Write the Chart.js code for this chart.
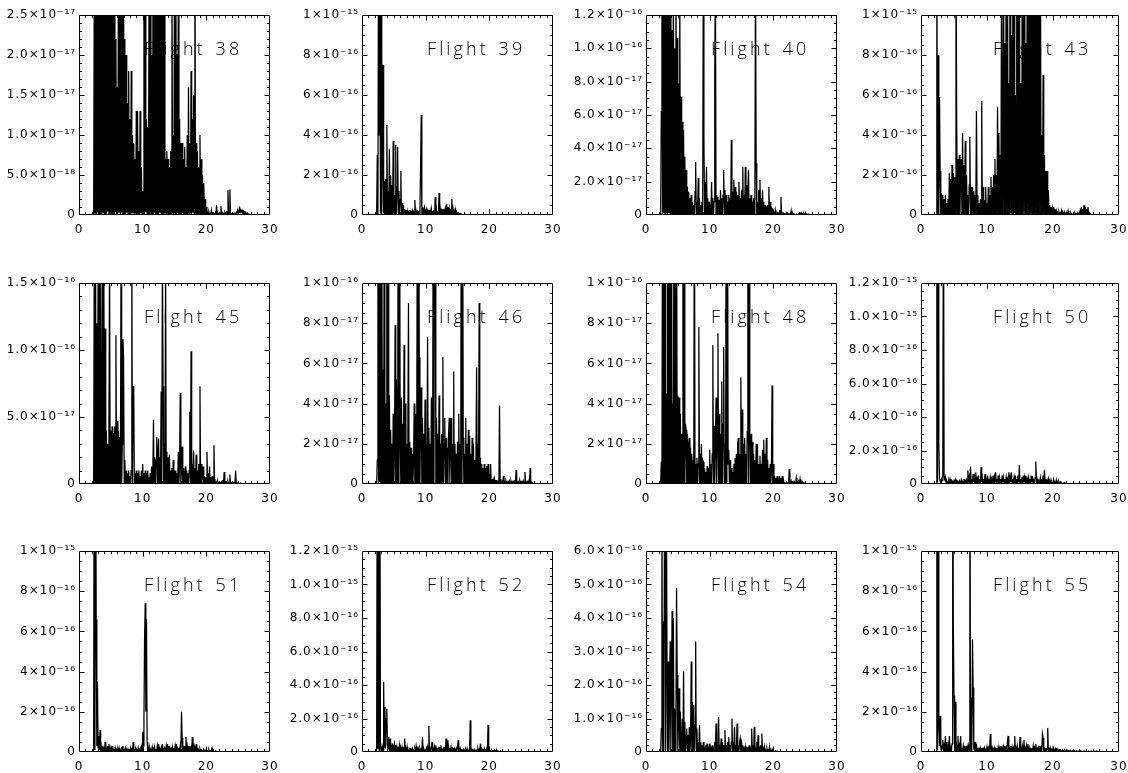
<!DOCTYPE html>
<html>
<head>
<meta charset="utf-8">
<title>Flight spectra</title>
<script src="https://cdn.jsdelivr.net/npm/chart.js@4.4.1/dist/chart.umd.min.js"></script>
<style>
html,body{margin:0;padding:0;background:#fff;}
body{width:1128px;height:773px;position:relative;overflow:hidden;}
canvas{position:absolute;}
</style>
</head>
<body>
<script>
// Frequency grid (Hz)
const freqHz = [2.3,2.4,2.5,2.6,2.7,2.8,2.9,3.0,
3.1,3.2,3.3,3.4,3.5,3.6,3.7,3.8,3.9,4.0,
4.1,4.2,4.3,4.4,4.5,4.6,4.7,4.8,4.9,5.0,
5.1,5.2,5.3,5.4,5.5,5.6,5.7,5.8,5.9,6.0,
6.1,6.2,6.3,6.4,6.5,6.6,6.7,6.8,6.9,7.0,
7.1,7.2,7.3,7.4,7.5,7.6,7.7,7.8,7.9,8.0,
8.1,8.2,8.3,8.4,8.5,8.6,8.7,8.8,8.9,9.0,
9.1,9.2,9.3,9.4,9.5,9.6,9.7,9.8,9.9,10.0,
10.1,10.2,10.3,10.4,10.5,10.6,10.7,10.8,10.9,11.0,
11.1,11.2,11.3,11.4,11.5,11.6,11.7,11.8,11.9,12.0,
12.1,12.2,12.3,12.4,12.5,12.6,12.7,12.8,12.9,13.0,
13.1,13.2,13.3,13.4,13.5,13.6,13.7,13.8,13.9,14.0,
14.1,14.2,14.3,14.4,14.5,14.6,14.7,14.8,14.9,15.0,
15.1,15.2,15.3,15.4,15.5,15.6,15.7,15.8,15.9,16.0,
16.1,16.2,16.3,16.4,16.5,16.6,16.7,16.8,16.9,17.0,
17.1,17.2,17.3,17.4,17.5,17.6,17.7,17.8,17.9,18.0,
18.1,18.2,18.3,18.4,18.5,18.6,18.7,18.8,18.9,19.0,
19.1,19.2,19.3,19.4,19.5,19.6,19.7,19.8,19.9,20.0,
20.1,20.2,20.3,20.4,20.5,20.6,20.7,20.8,20.9,21.0,
21.1,21.2,21.3,21.4,21.5,21.6,21.7,21.8,21.9,22.0,
22.1,22.2,22.3,22.4,22.5,22.6,22.7,22.8,22.9,23.0,
23.1,23.2,23.3,23.4,23.5,23.6,23.7,23.8,23.9,24.0,
24.1,24.2,24.3,24.4,24.5,24.6,24.7,24.8,24.9,25.0,
25.1,25.2,25.3,25.4,25.5,25.6,25.7,25.8,25.9,26.0,
26.1,26.2,26.3,26.4,26.5,26.6,26.7,26.8,26.9,27.0];

const xTickLabels = ['0','10','20','30'];

// Flight 38, units of 1e-18
const flight38 = [0,30,0.2,40,0.1,45,0.3,40,
0.1,45,0.2,50,0.1,40,0.3,38,0.2,45,
0.1,42,0.2,38,0.4,40,0.1,42,0.2,35,
0.3,36,0.1,30,0.2,40,0.5,22,0.1,16,
0.2,35,0.4,28,0.1,30,0.3,26,0.1,30,
0.2,22,0.1,20,0.3,14,0.1,18,0.2,12,
0.1,18,0.2,10,0.3,9,0.1,7,0.2,13,
0.1,13,0.2,8,0.1,13,0.2,6,0.1,3,
0.2,30,0.1,28,0.4,12,0.2,11,0.1,28,
0.3,35,0.1,20,0.2,40,0.1,30,0.3,28,
0.1,45,0.2,32,0.1,40,0.3,30,0.1,35,
0.2,38,0.1,30,0.2,7,0.1,8,0.2,7,
0.1,6,0.2,8,0.1,30,0.2,10,0.1,35,
0.3,40,0.1,20,0.2,28,0.1,12,0.2,9,
0.1,9,0.2,7,0.1,8.5,0.2,6,0.1,10,
0.2,16,0.1,9,0.2,18,0.1,12,0.3,15,
0.1,40,0.2,9,0.1,8,0.2,6,0.1,10,
0.2,7,0.1,5,0.2,4,0.1,2,0.1,1,
0.2,0.3,0.1,0.4,0.1,0.2,0.1,0.6,0.1,0.2,
0.1,0.2,0.1,0.3,0.1,1.2,0.2,0.3,0.1,0.2,
0.1,0.2,1.1,0.1,0.3,0.1,0.2,0.1,0.3,0.1,
0.2,0.5,0.1,3.1,0.3,0.2,3.2,0.1,0.2,0.1,
0.1,0.2,0.1,0.1,0.2,0.1,0.3,0.2,0.6,0.3,
0.4,0.8,0.3,0.6,0.4,0.7,0.3,0.5,0.3,0.4,
0.2,0.3,0.2,0.1,0.2,0.1,0.1,0.05,0.05,0];

// Flight 39, units of 1e-17
const flight39 = [0,30,0.5,150,40,130,0.8,120,
0.5,30,75,0.8,17,0.4,18,0.6,45,0.5,
12,0.3,33,0.5,20,0.3,15,0.4,37,0.6,
10,0.3,35,0.5,14,34,0.4,12,0.3,8,
22,0.3,6,0.2,5,0.2,3,0.1,2.5,0.1,
2,0.1,1.5,0.1,2.5,0.1,1.5,0.1,2,0.1,
1.5,0.1,7.5,0.1,2,0.1,1.5,0.1,2,0.1,
3,24,50,0.2,4,0.1,3,4,0.1,2,
3,0.1,2,0.1,2.5,0.1,2,0.1,3,0.1,
2,0.1,2.5,0.1,9,0.1,3,0.1,2,0.1,
11,0.1,3,0.1,2,0.1,3,0.1,2,0.1,
3,0.1,5.5,0.1,4,0.1,3,0.1,2,0.1,
8,0.1,3,0.1,2,0.1,2.5,0.1,1,0.1,
1,0.1,0.6,0.1,0.5,0.1,0.3,0.1,0.2,0.1,
0.3,0.1,0.2,0.1,0.1,0,0,0,0,0,
0,0,0,0,0,0,0,0,0,0,
0,0,0,0,0,0,0,0,0,0,
0,0,0,0,0,0,0,0,0,0,
0,0,0,0,0,0,0,0,0,0,
0,0,0,0,0,0,0,0,0,0,
0,0,0,0,0,0,0,0,0,0,
0,0,0,0,0,0,0,0,0,0,
0,0,0,0,0,0,0,0,0,0,
0,0,0,0,0,0,0,0,0,0,
0,0,0,0,0,0,0,0,0,0];

// Flight 40, units of 1e-18
const flight40 = [0,62,150,0.5,140,1,150,0.4,
140,0.8,150,0.3,140,1,130,0.4,150,0.5,
111,0.6,140,0.3,100,0.5,150,0.2,106,0.4,
79,0.3,150,0.2,71,0.5,56,0.3,51,0.2,
35,0.3,27,0.2,17,0.4,14,0.2,10,0.3,
12,0.2,8,0.3,6,0.2,14,32,0.3,8,
0.2,22,0.3,10,0.2,6,0.3,8,0.2,150,
46,0.3,20,0.2,29,0.4,10,0.2,8,0.3,
6,0.2,20,0.3,10,0.2,8,85,150,0.3,
12,0.2,11,0.4,9,0.2,15,0.3,10,0.2,
12,27,0.3,15,0.2,12,0.4,8,0.2,12,
0.3,10,0.2,45,0.4,14,0.3,21,0.2,17,
0.4,14,0.2,12,0.3,20,0.4,10,0.2,15,
0.3,29,0.4,12,0.2,29,0.3,18,0.2,15,
27,0.3,10,0.2,12,0.4,8,0.2,10,0.3,
12,150,31,0.3,8,0.2,15,0.3,21,0.2,
10,0.3,15,0.2,8,0.4,6,0.2,5,0.3,
6,0.2,17,0.3,8,0.2,5,0.1,4,0.1,
2,0.1,3,0.1,1,0.1,2,0.1,1,3,
0.1,11,0.1,1,0.1,1,0.1,0.5,0.1,1,
0.1,1,0.1,0.5,0.1,0.5,0.1,2.6,0.1,0.3,
0.1,0.5,0.1,0.3,0.1,0.5,0.1,0.3,0.1,0.5,
0.1,1,0.1,1.2,0.1,0.5,0.1,1,0.1,0.5,
1,0.1,0.5,0.1,0.5,0.1,0.3,0.1,0.3,0.1,
0.1,0.2,0.1,0.1,0,0,0,0,0,0];

// Flight 43, units of 1e-17
const flight43 = [0.2,140,0.3,80,0.5,59,22,0.2,
11,0.1,10,0.2,8,0.1,10,0.3,6,0.2,
8,0.2,21,0.3,18,0.2,25,0.4,21,0.3,
19,0.3,150,53,0.4,28,0.3,30,0.5,20,
28,0.3,41,0.5,25,0.3,37,0.4,20,0.3,
10,0.3,15,39,0.4,14,0.2,14,0.3,12,
0.2,10,0.3,52,0.2,10,0.3,6,0.2,8,
0.3,57,0.4,14,0.2,7.5,0.3,14,0.2,6,
0.3,14,0.2,10,0.3,19,0.2,14,0.3,20,
0.4,28,0.3,20,0.4,54,0.3,41,0.5,30,
0.4,120,0.5,40,150,0.6,86,0.4,130,0.3,
150,0.5,66,0.3,150,0.6,90,0.4,140,0.3,
150,0.7,60,0.4,150,0.5,130,0.3,150,0.4,
66,0.5,150,0.3,120,0.6,150,0.4,86,0.3,
150,0.5,140,0.3,150,0.8,100,0.4,150,0.2,
150,0.6,120,0.3,150,0.5,140,0.4,150,0.3,
130,0.5,40,0.3,70,0.4,30,0.2,22,0.3,
22,0.2,12.5,0.3,5,0.1,4,0.1,3,0.1,
4,0.1,3,0.1,2,0.1,1,0.1,1.5,0.1,
1,0.1,2,0.1,1,0.1,1.5,0.1,0.5,0.1,
1,0.1,2,0.1,0.5,0.1,1,0.1,0.5,0.1,
0.5,0.1,1,0.1,0.5,0.1,1,0.1,0.5,0.1,
2,0.2,4,0.3,3,0.2,5,0.3,4,0.2,
3,0.2,4,0.1,1,0.1,0.5,0.1,0.2,0.1,
0,0,0,0,0,0,0,0,0,0];

// Flight 45, units of 1e-18
const flight45 = [0,180,0.5,170,0.3,120,0.2,170,
0.4,160,0.2,175,60,0.3,150,0.5,170,0.3,
116,0.4,40,0.3,30,0.2,40,170,0.3,40,
0.3,43,0.4,38,0.2,43,0.3,111,0.2,47,
0.3,40,0.2,35,0.3,170,0.2,30,108,96,
0.3,18,0.2,10,0.1,8,0.2,10,0.1,6,
0.2,10,170,0.3,73,68,0.2,8,0.1,10,
0.2,8,0.1,10,0.2,6,0.1,10,0.2,15,
0.2,8,0.1,10,0.2,8,0.1,10,0.2,5,
0.1,8,0.2,13,0.1,10,48,0.2,20,0.3,
18,35,0.2,24,34,0.3,20,0.2,69,0.3,
170,73,0.2,30,0.3,170,0.4,24,0.2,20,
0.3,22,0.2,10,0.3,12,0.1,18,0.2,10,
0.2,10,0.1,8,0.3,24,0.2,15,68,0.3,
10,28,0.2,12,0.1,8,13,0.2,10,0.1,
8,0.2,10,54,0.2,99,0.3,15,0.2,25,
0.3,12,0.2,22,0.3,10,0.2,15,0.3,73,
0.3,15,0.2,8,13,0.2,6,0.1,5,0.2,
24,0.1,8,0.2,13,0.1,5,0.1,6,0.1,
2,29,0.1,2,0.1,1.5,0.1,2,0.1,1,
0.1,1,0.1,1.5,0.1,3,0.1,9,0.1,1,
0.1,1,0.1,2,0.1,1,7,0.1,1,0.1,
0.1,1,0.1,1,0.1,10,0.1,1,0.1,0.5,
0.1,0.5,0.1,0.5,0.1,0.3,0.1,0.3,0.1,0.3,
0.1,0.2,0.1,0.2,0.1,0.1,0,0,0,0];

// Flight 46, units of 1e-18
const flight46 = [0,12,170,0.5,170,0.8,160,0.5,
170,0.4,57,0.3,170,0.5,40,0.3,170,0.4,
170,0.4,44,0.3,27,0.2,20,0.3,35,0.4,
15,79,0.3,52,0.4,25,170,0.5,170,20,
0.4,43,0.3,30,0.2,69,0.4,40,0.3,20,
0.4,25,90,0.3,21,0.2,18,0.3,15,0.4,
12,40,0.3,35,0.2,25,170,0.4,170,63,
0.4,30,48,0.3,33,0.2,25,0.3,42,0.4,
20,0.3,73,0.4,28,0.2,20,0.3,43,0.4,
25,170,0.4,170,160,0.4,33,0.2,25,0.3,
44,0.3,20,0.2,25,0.4,63,0.3,20,33,
0.3,23,0.2,18,0.3,25,33,0.3,20,33,
0.3,20,0.2,56,0.3,20,0.2,15,0.3,21,
0.2,35,0.3,20,0.2,170,0.4,170,23,0.2,
15,0.3,33,0.2,20,0.3,27,0.2,24,0.3,
15,0.2,23,0.3,20,0.2,12,0.3,15,58,
0.3,20,0.3,90,0.2,13,0.3,10,0.2,8,
0.2,10,0.1,8,0.2,9,0.1,10,0.2,5,
0.1,10,0.1,2.5,0.1,2,0.1,2.5,0.1,2,
0.1,2,0.1,1,0.1,39,0.1,2.5,0.1,1,
0.1,4,0.1,1,0.1,1.5,0.1,1,0.1,1,
0.1,1,0.1,1.5,0.1,1,0.1,1,0.1,2,
0.1,7,0.1,1,0.1,1,0.1,1.5,0.1,1,
0.1,1,0.1,1,0.1,6,0.1,1,0.1,1,
0.1,1,0.1,8,0.1,1,0.1,0.5,0.1,0.1];

// Flight 48, units of 1e-18
const flight48 = [0,11,0.3,170,0.5,170,0.4,170,
0.5,45,0.3,170,0.4,170,0.5,160,0.3,170,
0.6,40,0.3,170,0.4,170,0.4,160,0.3,44,
0.4,43,0.3,35,0.2,25,0.4,170,0.3,170,
0.4,30,27,0.3,25,0.2,20,23,0.3,18,
0.3,15,0.2,12,0.3,170,0.2,10,0.3,13,
0.2,10,78,0.3,15,0.2,20,0.3,12,11,
0.3,8,0.2,6,0.3,9,0.2,8,0.1,17,
0.3,10,0.2,15,69,0.3,29,0.2,20,43,
0.3,20,75,0.2,35,0.3,25,0.2,51,0.3,
30,68,0.3,20,0.2,170,0.4,170,10,17,
0.3,12,0.2,8,0.3,6,0.2,10,0.3,13,
0.2,15,0.3,20,23,0.2,15,0.3,53,0.4,
37,0.3,20,0.2,23,0.3,15,0.2,26,170,
0.4,170,22,0.3,25,0.2,21,0.3,15,0.2,
12,0.3,20,0.2,20,0.3,10,0.2,14,0.3,
10,0.2,17,0.3,22,0.2,15,0.3,23,0.2,
12,0.3,8,0.2,10,0.3,6,49,0.2,10,
0.2,4,0.1,3,0.1,4,0.1,2,0.1,4,
0.1,3,0.1,4,0.1,2,0.1,0.5,0.1,0.5,
0.1,0.5,0.1,0.5,7.5,0.1,1,0.1,1,0.1,
1,0.1,1,0.1,0.5,3,0.1,1,0.1,1,
0.1,2.5,0.1,1,0.1,1,0.1,0.5,0.1,0.5,
0.1,0.2,0.1,0.2,0.1,0.1,0.1,0.1,0.1,0.1,
0.1,0.1,0,0,0,0,0,0,0,0];

// Flight 50, units of 1e-17
const flight50 = [0,200,1,150,25,3,2,1,
3,2,4,200,5,2,4,1,2,1,
1,2,0.5,3,1,2,0.5,1.5,1,2,
0.5,2.5,1,2,0.5,1.5,1,2,0.5,1,
2.5,0.5,1.5,1,3,0.5,2,1,2.5,0.5,
8,1,4,0.5,10.4,1,3,0.5,6,1,
4,0.5,7,1,3,0.5,5,1,3,0.5,
10,1,4,0.5,3,1,6,0.5,3,1,
5,0.5,3,1,4,0.5,3,1,5,0.5,
4,1,7,0.5,3,1,5,0.5,4,1,
3,0.5,5,1,4,0.5,3,1,4,0.5,
3,1,7,0.5,4,1,7,0.5,3,1,
4,0.5,5,1,3,0.5,5,1,11.4,0.5,
3,1,4,0.5,5,1,4,0.5,5,1,
3,0.5,4,1,3,0.5,5,1,3,0.5,
2,1,4,13.4,0.5,3,1,2,0.5,2,
4,0.5,3,1,5,0.5,8.4,1,3,0.5,
2,0.5,3,0.5,1.5,0.3,2.4,0.5,1,0.3,
2,0.3,1,0.3,2.4,0.3,1,0.3,1.5,0.3,
0.5,0.2,1,0.2,0.3,0.2,0.8,0.2,0.3,0.1,
0.5,0.1,0.2,0.1,0.1,0,0,0,0,0,
0,0,0,0,0,0,0,0,0,0,
0,0,0,0,0,0,0,0,0,0,
0,0,0,0,0,0,0,0,0,0,
0,0,0,0,0,0,0,0,0,0];

// Flight 51, units of 1e-17
const flight51 = [0,200,1,200,66,3,35,2,
8,1,11,0.5,3,0.5,2,0.5,1.5,0.5,
5,0.5,2,0.5,3,0.5,4,0.5,2,0.5,
2,0.3,3,0.5,1,0.3,2,0.5,1,0.3,
1.5,0.3,2,0.5,1,0.3,2.5,0.5,3,0.3,
1,0.3,2,0.5,1,0.3,1.5,0.5,1,0.3,
2,0.3,1,0.3,5,0.3,1,0.5,1.5,0.3,
1,0.3,2,0.5,1,0.3,2,3,0.5,10,
3,16,56,74,20,66,5,0.5,2,0.5,
2,0.5,1,0.3,2.5,0.5,1.5,0.3,2,0.5,
1,0.3,3,0.5,4,0.3,1.5,0.5,2,0.3,
4,0.5,2,0.3,1.5,0.5,3,0.3,4,0.5,
3,0.3,2,0.5,1.5,0.3,2.5,0.5,2,0.3,
3,0.5,4,0.3,1.5,0.5,2,0.3,3,0.5,
20,7,0.5,2,0.3,3,0.5,7.5,0.5,3,
0.5,2,0.3,3,0.5,2,0.3,7.5,0.5,2.5,
0.3,2,0.5,4,0.3,1.5,0.5,1,0.3,1.5,
0.3,1,0.2,0.5,0.2,1,0.2,0.8,0.2,1,
0.2,0.5,0.2,1.2,0.2,0.5,0.2,1,2,0.3,
0.5,0.2,0.3,0.1,0.5,0.1,0.3,0.1,0.2,0.1,
0.1,0.1,0.1,0.1,0.1,0,0,0,0,0,
0,0,0,0,0,0,0,0,0,0,
0,0,0,0,0,0,0,0,0,0,
0,0,0,0,0,0,0,0,0,0,
0,0,0,0,0,0,0,0,0,0];

// Flight 52, units of 1e-17
const flight52 = [0,200,2,200,1,200,6,2,
0.5,3,0.5,42,3,27,2,20,26,4,
2,9,0.5,8,0.5,3,0.5,5,0.5,3,
5,0.5,4,0.3,3,0.5,2,0.3,4,0.5,
2,0.3,3,0.5,2,0.3,8,0.5,2,0.3,
3,0.3,1,0.3,2.5,0.5,1.5,0.3,2,0.3,
1,0.3,2,0.5,3.4,0.3,2,0.5,1.5,0.3,
2,0.3,1.5,0.5,9,0.3,2,0.5,1,0.3,
2,0.5,3,0.3,15.5,0.5,2,0.3,3,6,
0.5,2,0.3,3,0.5,4,0.3,1.5,0.5,2,
0.3,3,0.5,4,0.3,1.5,0.5,2,0.3,3,
0.5,8,0.3,7,0.5,3,0.3,2.5,0.5,3,
0.3,2,0.5,2.5,0.3,1.5,0.5,2,0.3,3,
7,0.3,2,0.5,1.5,0.3,1,0.5,1.5,0.3,
1,0.3,1.5,0.3,2,0.3,1,0.3,1,19,
0.3,1.5,0.3,1,0.3,1.5,0.3,1,0.3,1,
0.3,2,0.3,1.5,0.3,5,0.3,1.5,0.3,1,
0.3,2,0.3,1,0.3,1.5,0.3,16.3,0.3,1,
0.3,0.5,0.2,1,0.2,0.8,0.2,1,0.2,0.5,
0.2,1,0.2,0.5,0.1,0.3,0.1,0.5,0.1,0.2,
0.1,0.2,0.1,0.2,0.1,0.1,0.1,0.1,0,0,
0,0,0,0,0,0,0,0,0,0,
0,0,0,0,0,0,0,0,0,0,
0,0,0,0,0,0,0,0,0,0,
0,0,0,0,0,0,0,0,0,0];

// Flight 54, units of 1e-17
const flight54 = [0,7,80,0.3,39,0.2,70,80,
0.3,80,27,0.2,27,0.3,17,33,0.2,20,
42,0.3,40,0.2,13,0.3,8,49,23,0.3,
10,19,0.2,12,0.5,0.2,10,0.3,24,0.2,
9,0.1,5,7,0.1,5,0.2,7.5,0.1,4,
27,0.1,15,0.2,14,0.1,8,33,0.1,7,
0.1,3,0.1,8,0.1,3,0.1,2,0.1,3,
0.1,1,0.1,2,0.1,2.5,0.1,1,0.1,2.5,
0.1,1,0.1,2,0.1,1,0.1,3,0.1,8.5,
0.1,2,0.1,10.5,0.1,2,0.1,4,0.1,3,
0.1,2,0.1,6.5,0.1,2,0.1,3,0.1,4.5,
0.1,2,0.1,3,10,0.1,3,0.1,7.5,0.1,
2,0.1,8.5,0.1,2,0.1,3,4,0.1,3.5,
0.1,2,0.1,1,0.1,1.5,0.1,1,0.1,1.5,
0.1,2,0.1,1,0.1,7,0.1,2,0.1,7.5,
0.1,1,0.1,3,0.1,5,0.1,1,0.1,2,
0.1,5.5,0.1,1,0.1,1.5,0.1,0.5,0.1,1,
0.1,0.5,0.1,1.5,0.1,0.5,0.1,0.8,0.1,0.3,
0.1,0.2,0.1,0.3,0.1,0.1,0.2,0.1,0,0,
0,0,0,0,0,0,0,0,0,0,
0,0,0,0,0,0,0,0,0,0,
0,0,0,0,0,0,0,0,0,0,
0,0,0,0,0,0,0,0,0,0,
0,0,0,0,0,0,0,0,0,0,
0,0,0,0,0,0,0,0,0,0];

// Flight 55, units of 1e-17
const flight55 = [0,200,1,200,12.5,3,18,2,
0.5,3,6,0.5,3,0.5,8,0.5,5,0.5,
3,0.5,8,0.5,2,0.5,4,200,62,28,
0.5,25,0.5,3,0.5,8,0.5,3,0.5,8,
0.3,2,0.3,3,0.3,2,0.3,3,0.3,2.5,
0.3,3,0.5,200,0.5,27,0.5,56,32,2,
0.5,5,0.3,4,0.3,2,0.3,1.5,0.3,2,
0.3,2,0.3,1.5,0.3,2,0.3,1,0.3,2.5,
0.3,2,0.3,1.5,9,0.3,2,0.3,1.5,0.3,
2,0.3,1.5,0.3,2,0.3,2.5,0.3,2,0.3,
3,0.3,2,0.3,2.5,0.3,3,0.3,2,0.3,
5,8,0.3,2,0.3,3,0.3,2.5,0.3,2,
0.3,8,0.3,2,0.3,3,0.3,2,0.3,7.5,
0.3,2,0.3,3,0.3,6,0.3,2,0.3,3,
0.3,4,0.3,2,0.3,1.5,0.3,2,0.3,3,
0.3,2,0.3,4,0.3,1.5,0.3,2,0.3,3,
0.3,2,0.3,9,7,0.3,1.5,0.3,2,0.3,
1.5,12,0.3,1.5,0.3,2,0.3,1,0.3,2,
0.3,1,0.3,1.5,0.3,2,0.3,1,0.3,1,
0.3,0.5,0.3,1,0.3,0.5,0.3,0.8,0.3,0.5,
0.3,0.8,0.2,0.5,0.2,0.8,0.2,0.3,0.2,0.5,
0.2,0.8,0.2,0.3,0.2,0.5,0.2,0.5,0.2,0.3,
0.2,0.5,0.2,0.3,0.2,0.5,0.2,0.3,0.2,0.5,
0.2,0.3,0.2,0.5,0.2,0.3,0.2,0.5,0.2,0.3,
0.2,0.5,0.2,0.3,0.2,0.5,0.2,0.3,0.2,0.2];

// Y tick labels
const yLabels38 = ['0','5.0×10⁻¹⁸','1.0×10⁻¹⁷','1.5×10⁻¹⁷','2.0×10⁻¹⁷','2.5×10⁻¹⁷'];
const yLabelsE15a = ['0','2×10⁻¹⁶','4×10⁻¹⁶','6×10⁻¹⁶','8×10⁻¹⁶','1×10⁻¹⁵'];
const yLabels40 = ['0','2.0×10⁻¹⁷','4.0×10⁻¹⁷','6.0×10⁻¹⁷','8.0×10⁻¹⁷','1.0×10⁻¹⁶','1.2×10⁻¹⁶'];
const yLabels45 = ['0','5.0×10⁻¹⁷','1.0×10⁻¹⁶','1.5×10⁻¹⁶'];
const yLabelsE16 = ['0','2×10⁻¹⁷','4×10⁻¹⁷','6×10⁻¹⁷','8×10⁻¹⁷','1×10⁻¹⁶'];
const yLabelsE15b = ['0','2.0×10⁻¹⁶','4.0×10⁻¹⁶','6.0×10⁻¹⁶','8.0×10⁻¹⁶','1.0×10⁻¹⁵','1.2×10⁻¹⁵'];
const yLabels54 = ['0','1.0×10⁻¹⁶','2.0×10⁻¹⁶','3.0×10⁻¹⁶','4.0×10⁻¹⁶','5.0×10⁻¹⁶','6.0×10⁻¹⁶'];

const panels = [
  {title:'Flight 38', values:flight38, yMax:25,  yStep:5,  yLabels:yLabels38,  yMinor:5},
  {title:'Flight 39', values:flight39, yMax:100, yStep:20, yLabels:yLabelsE15a, yMinor:4},
  {title:'Flight 40', values:flight40, yMax:120, yStep:20, yLabels:yLabels40,  yMinor:4},
  {title:'Flight 43', values:flight43, yMax:100, yStep:20, yLabels:yLabelsE15a, yMinor:4},
  {title:'Flight 45', values:flight45, yMax:150, yStep:50, yLabels:yLabels45,  yMinor:5},
  {title:'Flight 46', values:flight46, yMax:100, yStep:20, yLabels:yLabelsE16, yMinor:4},
  {title:'Flight 48', values:flight48, yMax:100, yStep:20, yLabels:yLabelsE16, yMinor:4},
  {title:'Flight 50', values:flight50, yMax:120, yStep:20, yLabels:yLabelsE15b, yMinor:4},
  {title:'Flight 51', values:flight51, yMax:100, yStep:20, yLabels:yLabelsE15a, yMinor:4},
  {title:'Flight 52', values:flight52, yMax:120, yStep:20, yLabels:yLabelsE15b, yMinor:4},
  {title:'Flight 54', values:flight54, yMax:60,  yStep:10, yLabels:yLabels54,  yMinor:5},
  {title:'Flight 55', values:flight55, yMax:100, yStep:20, yLabels:yLabelsE15a, yMinor:4}
];

// Layout (plot-frame edges in page pixels)
const colL = [79, 362, 646, 921];
const colR = [270, 553, 837, 1119];
const rowT = [15, 283, 551];
const rowB = [215, 484, 752];
const PADL = 80, PADR = 12, PADT = 12, PADB = 26;

Chart.defaults.font.family = '"DejaVu Sans", "Liberation Sans", sans-serif';
Chart.defaults.font.size = 12;
Chart.defaults.color = '#000';

const idlFrame = {
  id: 'idlFrame',
  beforeDraw(chart, args, opts) {
    chart.ctx.letterSpacing = opts.labelSpacing;
  },
  beforeDatasetsDraw(chart, args, opts) {
    const {ctx, chartArea: a} = chart;
    ctx.save();
    ctx.font = opts.titleFont;
    ctx.letterSpacing = opts.titleSpacing;
    ctx.wordSpacing = opts.wordSpacing;
    ctx.fillStyle = '#000';
    ctx.textAlign = 'left';
    ctx.textBaseline = 'alphabetic';
    ctx.fillText(opts.title, a.right + opts.titleDx, a.top + opts.titleDy);
    ctx.restore();
  },
  afterDatasetsDraw(chart, args, opts) {
    const {ctx, chartArea: a, scales} = chart;
    const xs = scales.x, ys = scales.y;
    const l = Math.round(a.left) + 0.5, r = Math.round(a.right) - 0.5;
    const t = Math.round(a.top) + 0.5, b = Math.round(a.bottom) - 0.5;
    ctx.save();
    ctx.strokeStyle = '#000';
    ctx.lineWidth = 1;
    ctx.beginPath();
    ctx.rect(l, t, r - l, b - t);
    const nx = Math.round((xs.max - xs.min) / opts.xMinorStep);
    for (let k = 1; k < nx; k++) {
      const px = Math.round(xs.getPixelForValue(xs.min + k * opts.xMinorStep)) + 0.5;
      const len = (k % opts.xMinorPerMajor === 0) ? opts.majorLen : opts.minorLen;
      ctx.moveTo(px, b); ctx.lineTo(px, b - len);
      ctx.moveTo(px, t); ctx.lineTo(px, t + len);
    }
    const ystep = opts.yStep / opts.yMinor;
    const ny = Math.round((ys.max - ys.min) / ystep);
    for (let k = 1; k < ny; k++) {
      const py = Math.round(ys.getPixelForValue(ys.min + k * ystep)) + 0.5;
      const len = (k % opts.yMinor === 0) ? opts.majorLen : opts.minorLen;
      ctx.moveTo(l, py); ctx.lineTo(l + len, py);
      ctx.moveTo(r, py); ctx.lineTo(r - len, py);
    }
    ctx.stroke();
    ctx.restore();
  }
};

panels.forEach((p, i) => {
  const col = i % 4, row = Math.floor(i / 4);
  const L = colL[col], R = colR[col], T = rowT[row], B = rowB[row];
  const w = (R - L) + PADL + PADR, h = (B - T) + PADT + PADB;
  const cv = document.createElement('canvas');
  cv.width = w; cv.height = h;
  cv.style.left = (L - PADL) + 'px';
  cv.style.top = (T - PADT) + 'px';
  cv.style.width = w + 'px';
  cv.style.height = h + 'px';
  document.body.appendChild(cv);
  new Chart(cv, {
    type: 'line',
    data: {
      datasets: [{
        data: freqHz.map((f, j) => ({x: f, y: p.values[j]})),
        borderColor: '#000',
        borderWidth: 1.25,
        pointRadius: 0,
        tension: 0,
        fill: false,
        clip: 0
      }]
    },
    options: {
      responsive: false,
      animation: false,
      devicePixelRatio: 1,
      events: [],
      layout: {padding: {left: 0, right: PADR, top: PADT, bottom: 0}},
      plugins: {
        legend: {display: false},
        tooltip: {enabled: false},
        idlFrame: {
          title: p.title,
          titleFont: '300 18px "Open Sans", "DejaVu Sans", sans-serif',
          titleSpacing: '3.1px',
          wordSpacing: '2px',
          titleDx: -126,
          titleDy: 40,
          labelSpacing: '1px',
          xMinorStep: 1,
          xMinorPerMajor: 10,
          yStep: p.yStep,
          yMinor: p.yMinor,
          majorLen: 5,
          minorLen: 2.5
        }
      },
      scales: {
        x: {
          type: 'linear', min: 0, max: 30,
          grid: {display: false, drawTicks: true, tickLength: 6},
          border: {display: false},
          ticks: {stepSize: 10, padding: 2, maxRotation: 0, autoSkip: false,
                  callback: (v, k) => xTickLabels[k]},
          afterFit(s) { s.height = PADB; }
        },
        y: {
          type: 'linear', min: 0, max: p.yMax,
          grid: {display: false, drawTicks: false},
          border: {display: false},
          ticks: {stepSize: p.yStep, padding: 3, autoSkip: false,
                  callback: (v, k) => p.yLabels[k]},
          afterFit(s) { s.width = PADL; }
        }
      }
    },
    plugins: [idlFrame]
  });
});
</script>
</body>
</html>
